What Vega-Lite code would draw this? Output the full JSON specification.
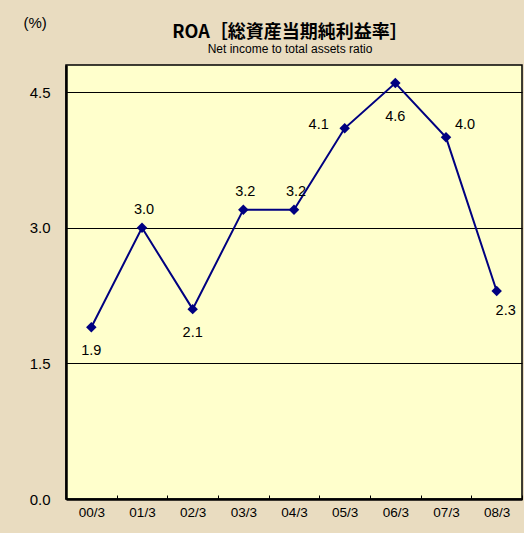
{
  "$schema": "https://vega.github.io/schema/vega-lite/v6.json",
  "autosize": "none",
  "width": 456,
  "height": 434,
  "padding": {"left": 66, "top": 65, "right": 2, "bottom": 34},
  "background": "#E9DCC0",
  "title": {
    "text": "ROA［総資産当期純利益率］",
    "subtitle": "Net income to total assets ratio",
    "orient": "top",
    "frame": "group",
    "anchor": "middle",
    "dx": -4,
    "offset": -40,
    "font": "Noto Sans CJK JP",
    "fontSize": 18,
    "fontWeight": "bold",
    "color": "#000000",
    "subtitleFont": "Liberation Sans",
    "subtitleFontSize": 12,
    "subtitleColor": "#000000",
    "subtitlePadding": 2
  },
  "config": {
    "view": {"fill": "#FFFFCC", "stroke": "#000000", "strokeWidth": 1.5},
    "font": "Liberation Sans"
  },
  "data": {
    "values": [
      {"period": "00/3", "roa": 1.9},
      {"period": "01/3", "roa": 3.0},
      {"period": "02/3", "roa": 2.1},
      {"period": "03/3", "roa": 3.2},
      {"period": "04/3", "roa": 3.2},
      {"period": "05/3", "roa": 4.1},
      {"period": "06/3", "roa": 4.6},
      {"period": "07/3", "roa": 4.0},
      {"period": "08/3", "roa": 2.3}
    ]
  },
  "encoding": {
    "x": {
      "field": "period",
      "type": "ordinal",
      "sort": null,
      "scale": {"type": "band", "paddingInner": 0, "paddingOuter": 0},
      "axis": {
        "title": null,
        "labelAngle": 0,
        "labelFontSize": 13.5,
        "labelColor": "#000000",
        "labelPadding": 10,
        "tickBand": "extent",
        "tickSize": -4,
        "tickColor": "#000000",
        "tickWidth": 1,
        "domainColor": "#000000",
        "domainWidth": 2.5
      }
    },
    "y": {
      "field": "roa",
      "type": "quantitative",
      "scale": {"domain": [0, 4.8], "nice": false},
      "axis": {
        "values": [0, 1.5, 3.0, 4.5],
        "format": ".1f",
        "title": "(%)",
        "titleAngle": 0,
        "titleX": -43,
        "titleY": -43,
        "titleAlign": "left",
        "titleBaseline": "middle",
        "titleFontSize": 15,
        "titleFontWeight": "normal",
        "titleColor": "#000000",
        "labelFontSize": 15,
        "labelColor": "#000000",
        "labelPadding": 16,
        "ticks": false,
        "grid": true,
        "gridColor": "#000000",
        "gridWidth": 1,
        "gridOpacity": 1,
        "domainColor": "#000000",
        "domainWidth": 2.5
      }
    }
  },
  "layer": [
    {"mark": {"type": "line", "color": "#000080", "strokeWidth": 2}},
    {"mark": {"type": "point", "shape": "diamond", "filled": true, "color": "#000080", "opacity": 1, "size": 110}},
    {
      "transform": [{"filter": "indexof(['00/3','02/3'], datum.period) >= 0"}],
      "mark": {"type": "text", "fontSize": 14.5, "color": "#000000", "dy": 24},
      "encoding": {"text": {"field": "roa", "format": ".1f"}}
    },
    {
      "transform": [{"filter": "indexof(['01/3','03/3','04/3'], datum.period) >= 0"}],
      "mark": {"type": "text", "fontSize": 14.5, "color": "#000000", "dy": -18, "dx": 2},
      "encoding": {"text": {"field": "roa", "format": ".1f"}}
    },
    {
      "transform": [{"filter": "datum.period == '05/3'"}],
      "mark": {"type": "text", "fontSize": 14.5, "color": "#000000", "dx": -26, "dy": -3},
      "encoding": {"text": {"field": "roa", "format": ".1f"}}
    },
    {
      "transform": [{"filter": "datum.period == '06/3'"}],
      "mark": {"type": "text", "fontSize": 14.5, "color": "#000000", "dy": 34},
      "encoding": {"text": {"field": "roa", "format": ".1f"}}
    },
    {
      "transform": [{"filter": "datum.period == '07/3'"}],
      "mark": {"type": "text", "fontSize": 14.5, "color": "#000000", "dx": 19, "dy": -12},
      "encoding": {"text": {"field": "roa", "format": ".1f"}}
    },
    {
      "transform": [{"filter": "datum.period == '08/3'"}],
      "mark": {"type": "text", "fontSize": 14.5, "color": "#000000", "dx": 9, "dy": 20},
      "encoding": {"text": {"field": "roa", "format": ".1f"}}
    }
  ]
}
